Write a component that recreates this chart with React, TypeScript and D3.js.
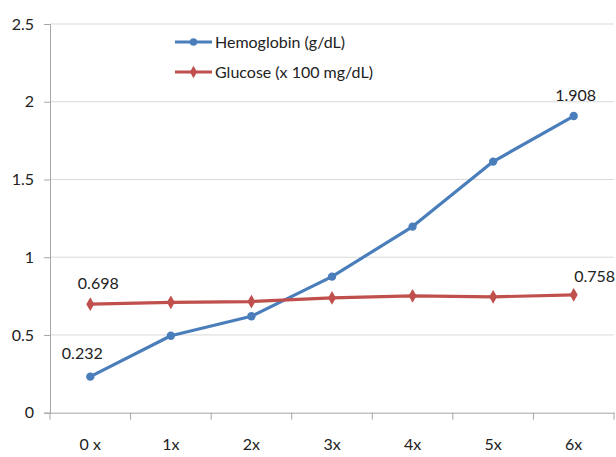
import React, { useEffect, useRef } from 'react';
import * as d3 from 'd3';

const categories = ['0 x', '1x', '2x', '3x', '4x', '5x', '6x'];
const hemoglobin = [0.232, 0.495, 0.62, 0.875, 1.197, 1.615, 1.908];
const glucose = [0.698, 0.71, 0.715, 0.738, 0.752, 0.745, 0.758];
const yTicks = [0, 0.5, 1, 1.5, 2, 2.5];
const seriesNames = ['Hemoglobin (g/dL)', 'Glucose (x 100 mg/dL)'];

const App: React.FC = () => {
  const chartRef = useRef<SVGSVGElement>(null);

  useEffect(() => {
    if (!chartRef.current) return;
    const width = 616;
    const height = 457;
    const font = 'Lato, "Open Sans", sans-serif';

    d3.select(chartRef.current).selectAll('*').remove();
    const svg = d3.select(chartRef.current)
      .attr('width', width)
      .attr('height', height);

    const x = d3.scaleBand().domain(categories).range([50, 614]);
    const y = d3.scaleLinear().domain([0, 2.5]).range([412.7, 24]);
    const cx = (i: number) => (x(categories[i]) || 0) + x.bandwidth() / 2;

    // Gridlines
    svg.append('g')
      .selectAll('line')
      .data(yTicks.filter(t => t > 0))
      .enter().append('line')
      .attr('x1', 50)
      .attr('x2', 614)
      .attr('y1', d => y(d))
      .attr('y2', d => y(d))
      .attr('stroke', '#d9d9d9')
      .attr('stroke-width', 1);

    // Y axis
    const yAxis = svg.append('g')
      .attr('transform', 'translate(50,0)')
      .call(d3.axisLeft(y).tickValues(yTicks).tickSize(6).tickPadding(10).tickFormat(d => String(d)));
    yAxis.select('.domain').attr('stroke', '#a6a6a6');
    yAxis.selectAll('.tick line').attr('stroke', '#a6a6a6');
    yAxis.selectAll('.tick text')
      .attr('font-family', font)
      .attr('font-size', '16px')
      .attr('fill', '#222');

    // X axis
    const xAxis = svg.append('g')
      .attr('transform', `translate(0,${y(0)})`)
      .call(d3.axisBottom(x).tickSize(0).tickPadding(26));
    xAxis.select('.domain').attr('stroke', '#a6a6a6');
    xAxis.selectAll('.tick text')
      .attr('font-family', font)
      .attr('font-size', '16px')
      .attr('fill', '#222');
    // category boundary ticks
    svg.append('g')
      .selectAll('line')
      .data(d3.range(categories.length + 1))
      .enter().append('line')
      .attr('x1', i => 50 + i * x.step())
      .attr('x2', i => 50 + i * x.step())
      .attr('y1', y(0))
      .attr('y2', y(0) + 7)
      .attr('stroke', '#a6a6a6');

    const series = [
      { name: seriesNames[0], values: hemoglobin, color: '#4a7ebb', marker: d3.symbolCircle },
      { name: seriesNames[1], values: glucose, color: '#c0504d', marker: d3.symbolDiamond },
    ];

    const line = d3.line<number>()
      .x((d, i) => cx(i))
      .y(d => y(d));

    series.forEach(s => {
      svg.append('path')
        .datum(s.values)
        .attr('d', line)
        .attr('fill', 'none')
        .attr('stroke', s.color)
        .attr('stroke-width', 3.2)
        .attr('stroke-linejoin', 'round');

      svg.append('g')
        .selectAll('path')
        .data(s.values)
        .enter().append('path')
        .attr('d', d3.symbol().type(s.marker).size(55)())
        .attr('transform', (d, i) => `translate(${cx(i)},${y(d)})`)
        .attr('fill', s.color);
    });

    // Value labels
    const labels = [
      { v: hemoglobin[0], x: cx(0) - 8, y: y(hemoglobin[0]) - 18 },
      { v: hemoglobin[6], x: cx(6) + 2, y: y(hemoglobin[6]) - 15 },
      { v: glucose[0], x: cx(0) + 8, y: y(glucose[0]) - 15 },
      { v: glucose[6], x: cx(6) + 21, y: y(glucose[6]) - 13 },
    ];
    svg.append('g')
      .selectAll('text')
      .data(labels)
      .enter().append('text')
      .attr('x', d => d.x)
      .attr('y', d => d.y)
      .attr('text-anchor', 'middle')
      .attr('font-family', font)
      .attr('font-size', '16px')
      .attr('fill', '#222')
      .text(d => d.v.toFixed(3));

    // Legend
    const legend = svg.append('g').attr('transform', 'translate(175,42)');
    series.forEach((s, i) => {
      const g = legend.append('g').attr('transform', `translate(0,${i * 30})`);
      g.append('line')
        .attr('x1', 0).attr('x2', 37)
        .attr('stroke', s.color)
        .attr('stroke-width', 3);
      g.append('path')
        .attr('d', d3.symbol().type(s.marker).size(45)())
        .attr('transform', 'translate(18.5,0)')
        .attr('fill', s.color);
      g.append('text')
        .attr('x', 40)
        .attr('dy', '0.35em')
        .attr('font-family', font)
        .attr('font-size', '16px')
        .attr('fill', '#222')
        .text(s.name);
    });
  }, []);

  return (
    <div style={{ position: 'absolute', left: 0, top: 0 }}>
      <svg ref={chartRef}></svg>
    </div>
  );
};

export default App;
